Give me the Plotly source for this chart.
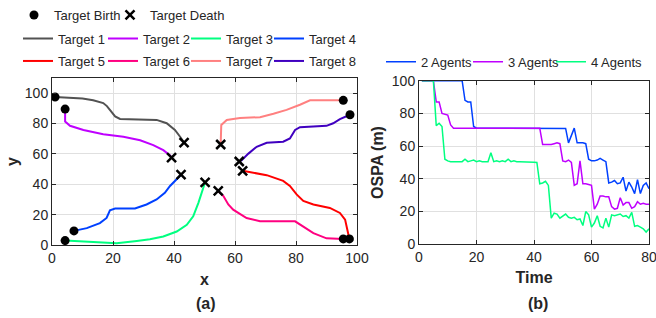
import plotly.graph_objects as go

# ---------------- data: trajectories (a) ----------------
target_names = ["Target 1", "Target 2", "Target 3", "Target 4",
                "Target 5", "Target 6", "Target 7", "Target 8"]
target_colors = ["#525252", "#BF00FF", "#00FF80", "#0040FF",
                 "#FF0000", "#FF0080", "#FF8080", "#4000C0"]

t1_x = [1, 6, 10, 13.5, 16.8, 18, 19, 20, 20.7, 22.3, 28, 34.3, 37.6, 40.3, 42, 43.3]
t1_y = [97.5, 96.9, 96.5, 95.3, 93.5, 91.5, 89, 86.5, 84.7, 83, 82.5, 82.4, 80.2, 75.8, 71.3, 67.5]
t2_x = [4.3, 4.3, 4.3, 5.9, 10.3, 16.8, 23.4, 28.9, 33.2, 36.5, 38.7, 39.2]
t2_y = [89.5, 85, 81.3, 78.5, 75.8, 73, 71.3, 69, 65.8, 62.5, 59, 57.5]
t3_x = [4.3, 10.3, 15.7, 21.2, 27.8, 32.1, 36.5, 40.9, 44.2, 46.3, 48, 49, 49.6, 50.2]
t3_y = [2.9, 2.2, 1.6, 1.1, 2.7, 3.8, 5.6, 8.9, 13.3, 18.9, 27.8, 34.4, 38.9, 41.3]
t4_x = [7.2, 11.4, 15.7, 17.9, 19, 20.7, 27.2, 31, 34.3, 37, 38.7, 40.9, 42.3]
t4_y = [9.3, 11.1, 14.4, 17.8, 22.9, 24, 24, 26.7, 30, 34.4, 38.9, 43.3, 46.3]
t5_x = [97.5, 97.2, 96.8, 96.1, 94.4, 91.1, 85.7, 82.4, 80.2, 78, 75.8, 70.4, 63.8, 62.5]
t5_y = [4, 6.7, 12.2, 16.7, 21.1, 24.4, 26.7, 29, 33.3, 38.9, 42.2, 46, 48.4, 48.9]
t6_x = [95.5, 90, 85.7, 82.4, 79.7, 68.2, 63.8, 59.4, 57.8, 56.2, 54.5]
t6_y = [4, 4.4, 7.8, 12.2, 15.6, 15.6, 17.8, 23.3, 26.7, 32.2, 35.6]
t7_x = [95.5, 84.6, 81.3, 76.9, 72.6, 68.2, 61.6, 57.3, 55.5, 55.3]
t7_y = [95.3, 95.3, 92.4, 89, 86.4, 84.2, 83.6, 82.4, 79, 66.2]
t8_x = [97.7, 94.4, 92.2, 90, 81.3, 79.7, 78, 75.8, 70.4, 67.1, 64.4, 62.2, 61.4]
t8_y = [85.8, 82.9, 80.2, 78.5, 77.6, 75.8, 70.2, 68, 67.3, 64.7, 60.2, 55.8, 55]

tracks_x = [t1_x, t2_x, t3_x, t4_x, t5_x, t6_x, t7_x, t8_x]
tracks_y = [t1_y, t2_y, t3_y, t4_y, t5_y, t6_y, t7_y, t8_y]

# ---------------- data: OSPA (b) ----------------
time = list(range(1, 81))
ospa_2 = ([100] * 15 + [88, 87, 87, 72, 71] +
          [71, 71, 70.8, 71, 71, 71.2, 71, 70.8, 71, 71, 71, 71.2, 71, 71, 70.8, 71,
           71, 71, 71, 71.2, 71, 71, 71, 70.8, 71, 71, 71, 71.2, 71, 71, 70.8] +
          [62, 66, 71, 62, 62, 62, 61.5, 52, 51, 51, 51.5, 52.5, 51.5, 50.5, 37.5, 38,
           39, 37, 37.5, 41, 32.5, 38, 35, 31, 39.5, 31, 36, 37.5, 34])
ospa_3 = ([100] * 5 + [87, 87, 80, 79.5, 79, 73, 71] +
          [71, 70.8, 71, 71, 71.2, 71, 71, 70.8, 71, 71, 71.2, 71, 71, 70.8, 71,
           71, 71, 71.2, 71, 71, 70.8, 71, 71, 71, 71.2, 71, 71, 70.8, 71, 71] +
          [61, 61, 61, 61, 61.5, 62, 61.5, 51, 50.5, 51.5, 50, 36, 37, 51, 37, 37, 36.5,
           36, 21.5, 24.5, 29.5, 29.5, 29, 29, 23, 21.5, 22, 28.5, 24, 25.5, 25.5, 22,
           23, 26, 24.5, 25, 24.5, 24.5])
ospa_4 = ([100] * 5 + [72.5, 74, 72, 52, 51] +
          [50.5, 50.5, 50.5, 50.5, 50.5, 52, 50.5, 51, 51.5, 50.5, 51, 50.5, 50.5, 50.5,
           56, 50.5, 51, 50.5, 51, 50.5, 52, 50.5, 51, 50.5, 50.5, 50.5, 50.5, 50.3,
           50.3, 50.2, 50] +
          [37, 37.5, 38.5, 36, 16, 19, 18.5, 16, 17, 18.5, 16.5, 16, 16.5, 15, 15.5,
           11.5, 20, 18, 10.5, 13, 17.5, 11, 10, 16, 10.5, 18, 17.5, 18, 18.5, 17,
           17.5, 16, 19.5, 11, 11.5, 10.5, 9.5, 7.5, 9.5])
ospa_names = ["2 Agents", "3 Agents", "4 Agents"]
ospa_colors = ["#0040FF", "#BF00FF", "#00FF80"]
ospa_series = [ospa_2, ospa_3, ospa_4]

x_ticks_a = [0, 20, 40, 60, 80, 100]
y_ticks_a = [0, 20, 40, 60, 80, 100]
x_ticks_b = [0, 20, 40, 60, 80]
y_ticks_b = [0, 20, 40, 60, 80, 100]

W, H = 656, 318
FONT = "Arial, Liberation Sans, Helvetica, sans-serif"
TXT = "#262626"

# legend slots: (left edge px, centre y px) – one small legend per entry
target_legend_pos = [(18, 38.5), (103, 38.5), (186, 38.5), (269, 38.5),
                     (18, 61), (103, 61), (186, 61), (269, 61)]
marker_legend_pos = [(14, 15), (110, 15)]
ospa_legend_pos = [(381, 61.7), (468, 61.7), (551, 61.7)]

fig = go.Figure()
legends = {}
lid = [0]


def new_legend(pos):
    lid[0] += 1
    key = "legend" if lid[0] == 1 else "legend%d" % lid[0]
    legends[key] = dict(orientation="h", x=pos[0] / W, y=(H - pos[1]) / H,
                        xanchor="left", yanchor="middle",
                        font=dict(family=FONT, size=13, color=TXT),
                        bgcolor="rgba(0,0,0,0)", borderwidth=0)
    return key


for i in range(8):
    fig.add_trace(go.Scatter(
        x=tracks_x[i], y=tracks_y[i], mode="lines", name=target_names[i],
        line=dict(color=target_colors[i], width=2),
        legend=new_legend(target_legend_pos[i]),
        xaxis="x", yaxis="y"))

birth_x = [tx[0] for tx in tracks_x]
birth_y = [ty[0] for ty in tracks_y]
death_x = [tx[-1] for tx in tracks_x]
death_y = [ty[-1] for ty in tracks_y]

fig.add_trace(go.Scatter(
    x=birth_x, y=birth_y, mode="markers", name="Target Birth",
    marker=dict(symbol="circle", size=9, color="black"),
    legend=new_legend(marker_legend_pos[0]), xaxis="x", yaxis="y"))
fig.add_trace(go.Scatter(
    x=death_x, y=death_y, mode="markers", name="Target Death",
    marker=dict(symbol="x-thin", size=9, color="black",
                line=dict(color="black", width=2.5)),
    legend=new_legend(marker_legend_pos[1]), xaxis="x", yaxis="y"))

for k, (name, col, vals) in enumerate(zip(ospa_names, ospa_colors, ospa_series)):
    fig.add_trace(go.Scatter(
        x=time, y=vals, mode="lines", name=name,
        line=dict(color=col, width=1.5),
        legend=new_legend(ospa_legend_pos[k]), xaxis="x2", yaxis="y2"))

ax_common = dict(
    showline=True, linecolor=TXT, linewidth=1, mirror="ticks",
    ticks="inside", ticklen=4, tickcolor=TXT,
    showgrid=True, gridcolor="#E0E0E0", gridwidth=1,
    zeroline=False, tickfont=dict(family=FONT, size=14, color=TXT),
    automargin=False, ticklabeloverflow="allow",
)
title_font = dict(family=FONT, size=16, color=TXT, weight="bold")

fig.update_layout(
    width=W, height=H,
    margin=dict(l=0, r=0, t=0, b=0, autoexpand=False),
    paper_bgcolor="white", plot_bgcolor="white",
    showlegend=True,
    font=dict(family=FONT, color=TXT),
    xaxis=dict(domain=[52 / W, 357 / W], range=[0, 100], tickvals=x_ticks_a,
               anchor="y", title=dict(text="x", font=title_font, standoff=9),
               **ax_common),
    yaxis=dict(domain=[(H - 245) / H, (H - 78) / H], range=[0, 110], tickvals=y_ticks_a,
               anchor="x", title=dict(text="y", font=title_font, standoff=2),
               **ax_common),
    xaxis2=dict(domain=[419 / W, 649 / W], range=[0, 80], tickvals=x_ticks_b,
                anchor="y2", title=dict(text="Time", font=title_font, standoff=7),
                **ax_common),
    yaxis2=dict(domain=[(H - 244.3) / H, (H - 80.7) / H], range=[0, 100], tickvals=y_ticks_b,
                anchor="x2", title=dict(text="OSPA (m)", font=title_font, standoff=4),
                **ax_common),
    annotations=[
        dict(text="<b>(a)</b>", x=206 / W, y=(H - 303) / H, xref="paper", yref="paper",
             xanchor="center", yanchor="middle",
             showarrow=False, font=dict(family=FONT, size=16, color=TXT)),
        dict(text="<b>(b)</b>", x=537.7 / W, y=(H - 303) / H, xref="paper", yref="paper",
             xanchor="center", yanchor="middle",
             showarrow=False, font=dict(family=FONT, size=16, color=TXT)),
    ],
    **legends,
)

fig.write_html("out.html",
               config={"displayModeBar": False},
               post_script="document.body.style.margin='0px';"
                           "document.body.style.padding='0px';")
